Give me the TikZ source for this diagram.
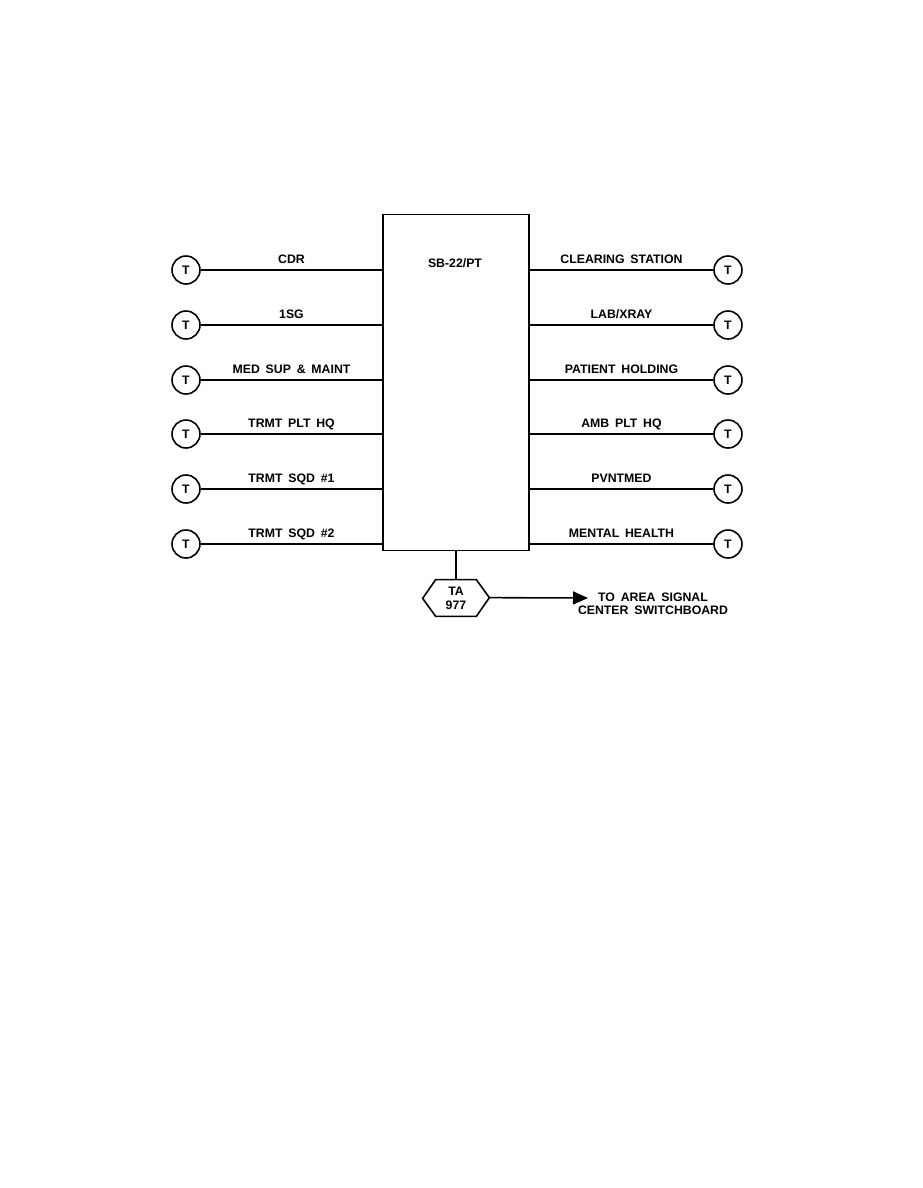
\documentclass[tikz,border=0pt]{standalone}
\usepackage{fontspec}
\setmainfont[WordSpace=1.7]{Liberation Sans}
\usetikzlibrary{arrows.meta}

\tikzset{
    wire/.style={line width=0.9pt},
    term/.style={draw, circle, line width=0.9pt, minimum size=0.56cm, inner sep=0pt,
        font=\fontsize{7}{8}\selectfont\bfseries},
    lbl/.style={inner sep=0pt, text depth=0pt, font=\fontsize{7}{8}\selectfont\bfseries},
}

\begin{document}
\begin{tikzpicture}[x=0.02cm, y=-0.02cm]
    \useasboundingbox (0,0) rectangle (923,1188);

    % Switchboard
    \node[draw, line width=0.9pt, minimum width=2.92cm, minimum height=6.72cm] (sb) at (456,382.5) {};
    \node[lbl] (sbname) at (455,263) {SB-22/PT};

    % Telephones, left side
    \node[term] (tl1) at (186,270) {T};
    \node[term] (tl2) at (186,325) {T};
    \node[term] (tl3) at (186,380) {T};
    \node[term] (tl4) at (186,434) {T};
    \node[term] (tl5) at (186,489) {T};
    \node[term] (tl6) at (186,544) {T};

    % Telephones, right side
    \node[term] (tr1) at (728,270) {T};
    \node[term] (tr2) at (728,325) {T};
    \node[term] (tr3) at (728,380) {T};
    \node[term] (tr4) at (728,434) {T};
    \node[term] (tr5) at (728,489) {T};
    \node[term] (tr6) at (728,544) {T};

    % Lines to the switchboard
    \draw[wire] (tl1) -- (tl1 -| sb.west) node[lbl, midway, above=3.5pt] {CDR};
    \draw[wire] (tl2) -- (tl2 -| sb.west) node[lbl, midway, above=3.5pt] {1SG};
    \draw[wire] (tl3) -- (tl3 -| sb.west) node[lbl, midway, above=3.5pt] {MED SUP \& MAINT};
    \draw[wire] (tl4) -- (tl4 -| sb.west) node[lbl, midway, above=3.5pt] {TRMT PLT HQ};
    \draw[wire] (tl5) -- (tl5 -| sb.west) node[lbl, midway, above=3.5pt] {TRMT SQD \#1};
    \draw[wire] (tl6) -- (tl6 -| sb.west) node[lbl, midway, above=3.5pt] {TRMT SQD \#2};

    \draw[wire] (sb.east |- tr1) -- (tr1) node[lbl, midway, above=3.5pt] {CLEARING STATION};
    \draw[wire] (sb.east |- tr2) -- (tr2) node[lbl, midway, above=3.5pt] {LAB/XRAY};
    \draw[wire] (sb.east |- tr3) -- (tr3) node[lbl, midway, above=3.5pt] {PATIENT HOLDING};
    \draw[wire] (sb.east |- tr4) -- (tr4) node[lbl, midway, above=3.5pt] {AMB PLT HQ};
    \draw[wire] (sb.east |- tr5) -- (tr5) node[lbl, midway, above=3.5pt] {PVNTMED};
    \draw[wire] (sb.east |- tr6) -- (tr6) node[lbl, midway, above=3.5pt] {MENTAL HEALTH};

    % TA-977 and trunk to area signal center
    \node[lbl, align=center, minimum width=0.8cm, minimum height=0.72cm] (ta) at (456,598) {TA\\977};
    \draw[wire] (ta.north west) -- (ta.north east) -- ++(13,18) coordinate (hexe)
        -- (ta.south east) -- (ta.south west) -- ++(-13,-18) -- cycle;
    \draw[wire] (sb.south) -- (ta.north);

    \coordinate (tip) at (588,598);
    \draw[wire, -{Triangle[length=0.3cm, width=0.26cm]}] (hexe) -- (tip);
    \node[lbl, align=center, font=\fontsize{7}{7.4}\selectfont\bfseries] (dest) at (653,604)
        {TO AREA SIGNAL\\CENTER SWITCHBOARD};
\end{tikzpicture}
\end{document}
